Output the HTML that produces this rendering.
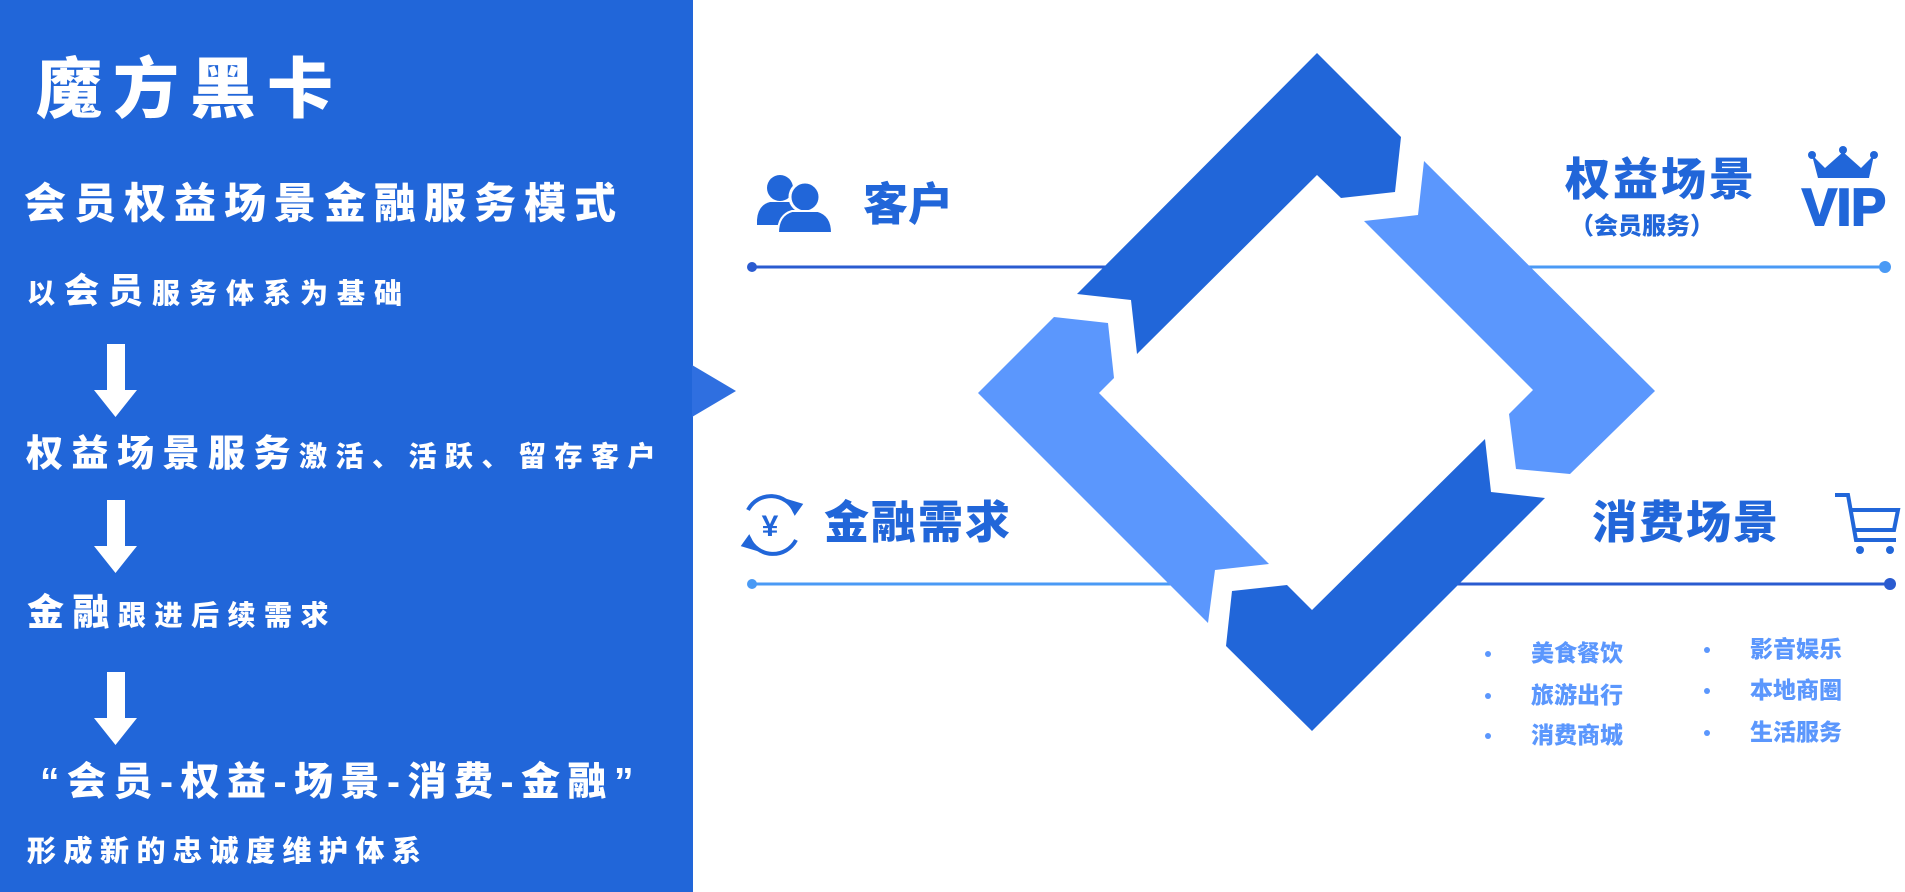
<!DOCTYPE html>
<html><head><meta charset="utf-8"><style>
*{margin:0;padding:0}
body{width:1905px;height:892px;position:relative;background:#fff;overflow:hidden;font-family:"Liberation Sans","Noto Sans CJK SC",sans-serif;font-weight:900}
.t{position:absolute;white-space:nowrap;line-height:1}
.w{color:#fff}
.b{color:#2166d9}
.lb{color:#5b97fd}
</style></head><body>
<div style="position:absolute;left:0;top:0;width:693px;height:892px;background:#2166d9"></div>
<svg style="position:absolute;left:0;top:0" width="1905" height="892">
<polygon points="692,365 736,391 692,417" fill="#2f6fe0"/>
<g fill="#fff">
<rect x="107" y="344" width="18" height="48"/><polygon points="94,390 137,390 115.5,417"/>
<rect x="107" y="500" width="18" height="48"/><polygon points="94,546 137,546 115.5,573"/>
<rect x="107" y="672" width="18" height="48"/><polygon points="94,718 137,718 115.5,745"/>
</g>
<line x1="752" y1="267" x2="1120" y2="267" stroke="#2a5bd0" stroke-width="3"/>
<circle cx="752" cy="267" r="5" fill="#2a5bd0"/>
<line x1="1500" y1="267" x2="1885" y2="267" stroke="#4a9af5" stroke-width="3"/>
<circle cx="1885" cy="267" r="6" fill="#4a9af5"/>
<line x1="752" y1="584" x2="1180" y2="584" stroke="#4a9af5" stroke-width="3"/>
<circle cx="752" cy="584" r="5" fill="#4a9af5"/>
<line x1="1450" y1="584" x2="1890" y2="584" stroke="#2a5bd0" stroke-width="3"/>
<circle cx="1890" cy="584" r="6" fill="#2a5bd0"/>
<polygon fill="#2166d9" points="1317,53 1401,137 1395,192 1341,198 1317,175 1137,354 1131,300 1077,294"/>
<polygon fill="#5b97fd" points="1424,161 1655,391 1570,474 1516,469 1509,414 1533,390 1364,221 1418,215"/>
<polygon fill="#2166d9" points="1485,439 1491,492 1545,498 1312,731 1226,646 1232,591 1287,585 1312,610"/>
<polygon fill="#5b97fd" points="1054,317 1108,323 1114,378 1099,393 1269,564 1215,570 1208,623 978,393"/>
<g fill="#2166d9">
<circle cx="780" cy="188" r="13"/><path d="M757,220 Q758,205 770,202 L790,202 Q798,204 800,210 L790,225 L757,225Z"/>
<circle cx="805" cy="197" r="15" stroke="#fff" stroke-width="3"/><path d="M778,233 Q778,215 792,211 L818,211 Q832,215 832,233Z" stroke="#fff" stroke-width="2"/>
</g>
<g fill="none" stroke="#2166d9" stroke-width="4">
<path d="M748,510 A26,26 0 0 1 795,512"/><path d="M796,540 A26,26 0 0 1 749,538"/>
<polygon points="795,512 790,502 800,505" fill="#2166d9"/>
<polygon points="749,538 754,548 744,545" fill="#2166d9"/>
</g>
<text x="770" y="536" font-size="30" fill="#2166d9" text-anchor="middle" font-family="Liberation Sans" font-weight="bold">¥</text>
<g fill="#2166d9">
<polygon points="1812,155 1825,168 1843,152 1861,168 1874,155 1869,178 1818,178"/>
<circle cx="1812" cy="155" r="4"/><circle cx="1843" cy="150" r="4"/><circle cx="1874" cy="155" r="4"/>
</g>
<text x="1844" y="225" font-size="52" fill="#2166d9" text-anchor="middle" font-family="Liberation Sans" font-weight="bold" stroke="#2166d9" stroke-width="2">VIP</text>
<g fill="none" stroke="#2166d9" stroke-width="4">
<path d="M1835,495 L1848,495 L1856,540 L1896,540"/>
<path d="M1850,510 L1898,510 L1894,530 L1855,530"/>
</g>
<circle cx="1860" cy="550" r="4" fill="#2166d9"/><circle cx="1890" cy="550" r="4" fill="#2166d9"/>
<g fill="#5b97fd">
<circle cx="1488" cy="654" r="3"/><circle cx="1488" cy="696" r="3"/><circle cx="1488" cy="736" r="3"/>
<circle cx="1707" cy="650" r="3"/><circle cx="1707" cy="691" r="3"/><circle cx="1707" cy="733" r="3"/>
</g>
</svg>

<div class="t w" style="left:36px;top:56px;font-size:66px;letter-spacing:11px">魔方黑卡</div>
<div class="t w" style="left:24px;top:183px;font-size:42px;letter-spacing:8px">会员权益场景金融服务模式</div>
<div class="t w" style="left:27px;top:274px;letter-spacing:9px"><span style="font-size:28px">以</span><span style="font-size:35px">会员</span><span style="font-size:28px">服务体系为基础</span></div>
<div class="t w" style="left:26px;top:435px;letter-spacing:8.5px"><span style="font-size:37px">权益场景服务</span><span style="font-size:28px">激活、活跃、留存客户</span></div>
<div class="t w" style="left:27px;top:594px;letter-spacing:8.5px"><span style="font-size:37px">金融</span><span style="font-size:28px">跟进后续需求</span></div>
<div class="t w" style="left:40px;top:763px;font-size:39px;letter-spacing:7.5px">“会员-权益-场景-消费-金融”</div>
<div class="t w" style="left:27px;top:838px;font-size:29px;letter-spacing:7.5px">形成新的忠诚度维护体系</div>

<div class="t b" style="left:863px;top:182px;font-size:45px">客户</div>
<div class="t b" style="left:1565px;top:157px;font-size:45px;letter-spacing:3px">权益场景</div>
<div class="t b" style="left:1570px;top:215px;font-size:24px">（会员服务）</div>
<div class="t b" style="left:824px;top:500px;font-size:45px;letter-spacing:2px">金融需求</div>
<div class="t b" style="left:1592px;top:500px;font-size:45px;letter-spacing:2px">消费场景</div>
<div class="t lb" style="left:1531px;top:642px;font-size:23px">美食餐饮</div>
<div class="t lb" style="left:1531px;top:684px;font-size:23px">旅游出行</div>
<div class="t lb" style="left:1531px;top:724px;font-size:23px">消费商城</div>
<div class="t lb" style="left:1750px;top:638px;font-size:23px">影音娱乐</div>
<div class="t lb" style="left:1750px;top:679px;font-size:23px">本地商圈</div>
<div class="t lb" style="left:1750px;top:721px;font-size:23px">生活服务</div>
</body></html>
